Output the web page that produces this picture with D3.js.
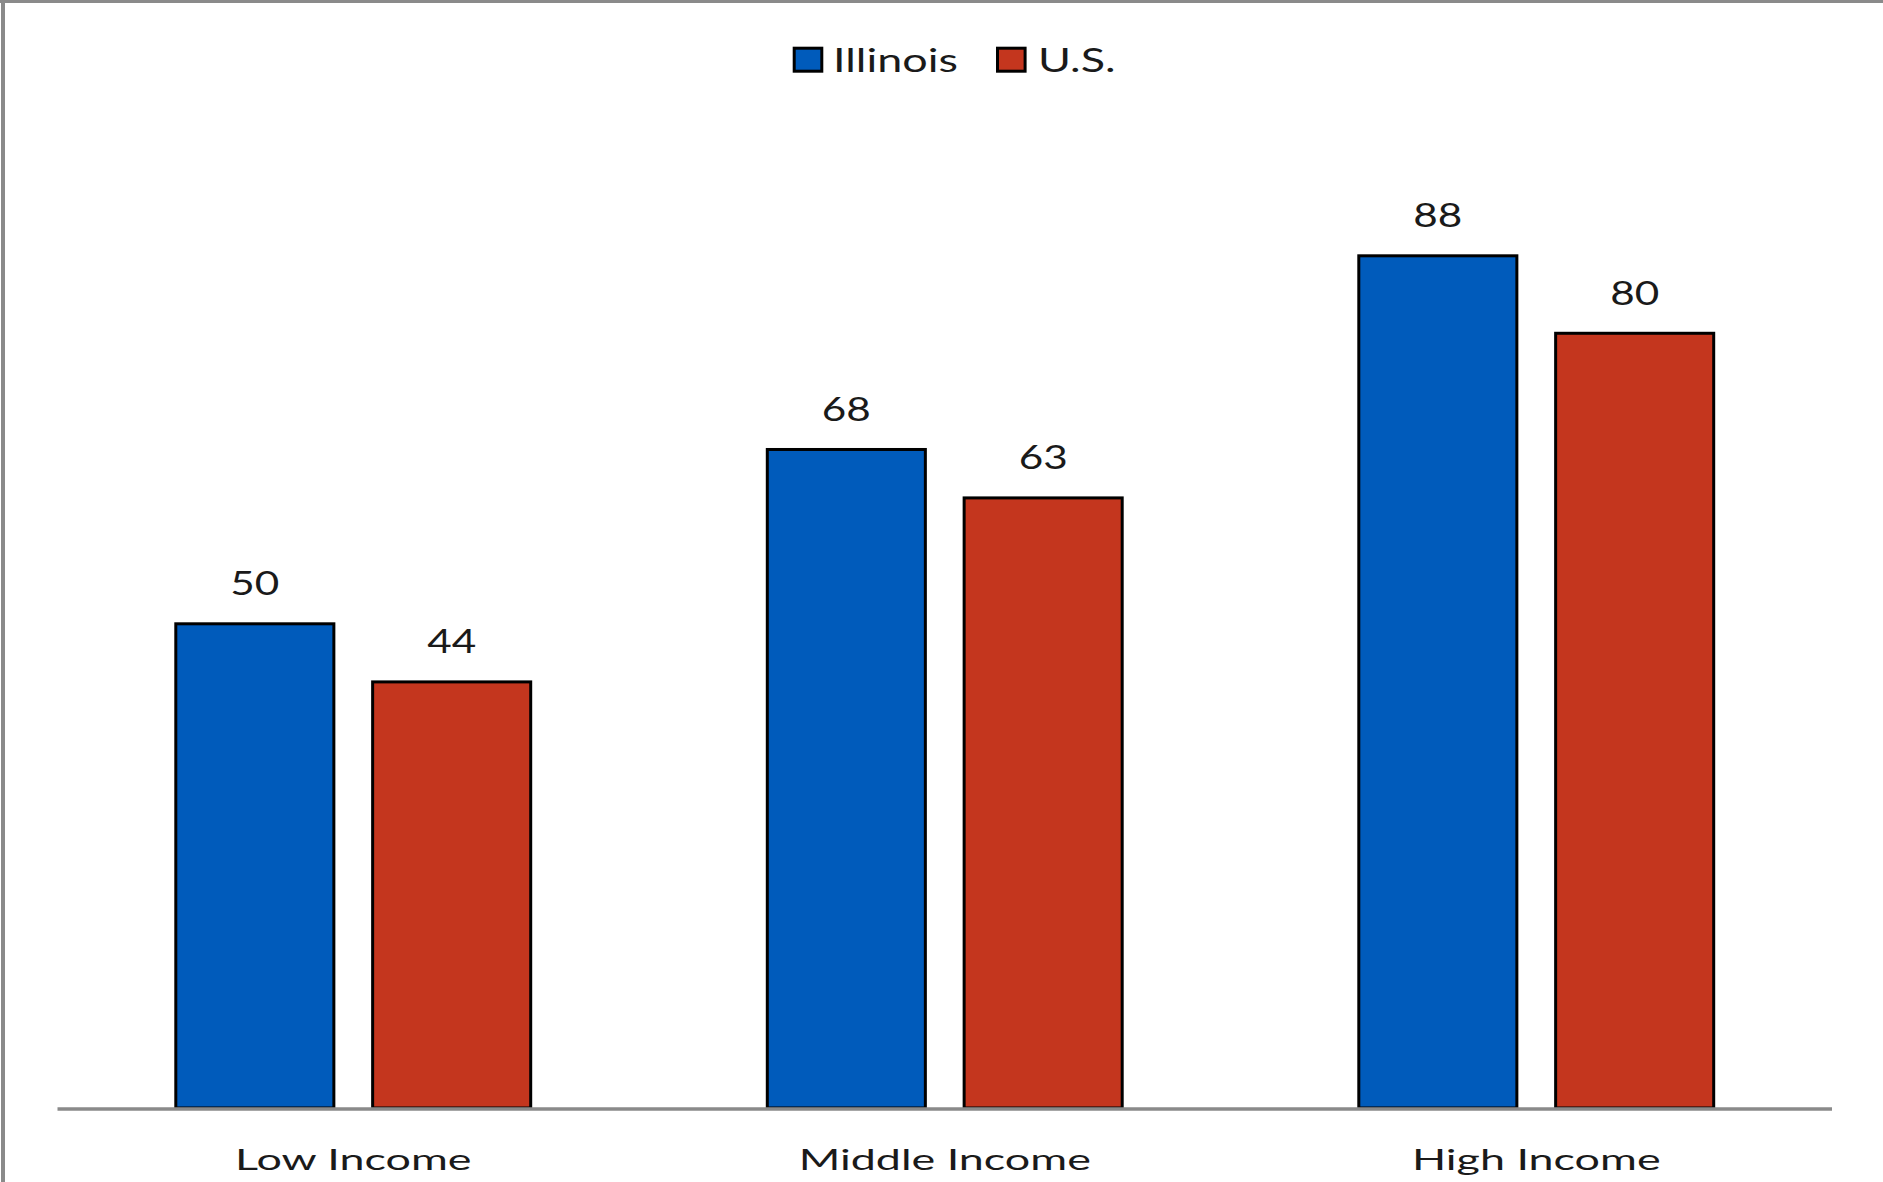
<!DOCTYPE html>
<html>
<head>
<meta charset="utf-8">
<script src="https://cdn.jsdelivr.net/npm/d3@7"></script>
<style>
  html, body { margin: 0; padding: 0; background: #fff; }
  svg { display: block; }
  text { font-family: Lato, "Open Sans", sans-serif; fill: #1a1a1a; }
</style>
</head>
<body>
<svg id="chart" width="1883" height="1182"></svg>
<script>
// Share by income group, Illinois vs. U.S.
const categories = ["Low Income", "Middle Income", "High Income"];
const seriesNames = ["Illinois", "U.S."];
const illinoisValues = [50, 68, 88];
const usValues = [44, 63, 80];
const seriesColors = ["#005BBB", "#C4361E"];

const rows = categories.map((c, i) => ({
  category: c,
  values: [
    { series: seriesNames[0], value: illinoisValues[i] },
    { series: seriesNames[1], value: usValues[i] }
  ]
}));

const W = 1883, H = 1182;
const plot = { left: 57.5, right: 1832, bottom: 1108 };
const valueStretch = 1.3;     // wide lettering used throughout
const legendStretch = 1.36;
const catStretch = 1.52;

const svg = d3.select("#chart");

// outer frame (only top and left edges fall inside the canvas)
svg.append("line").attr("x1", 3).attr("x2", 3).attr("y1", 0).attr("y2", H)
  .attr("stroke", "#8a8a8a").attr("stroke-width", 4);
svg.append("line").attr("x1", 0).attr("x2", W).attr("y1", 1.5).attr("y2", 1.5)
  .attr("stroke", "#8a8a8a").attr("stroke-width", 3);

const x0 = d3.scaleBand().domain(categories).range([plot.left, plot.right]).padding(0);
const groupW = x0.bandwidth() * 0.6;
const x1 = d3.scaleBand().domain(seriesNames)
  .range([(x0.bandwidth() - groupW) / 2, (x0.bandwidth() + groupW) / 2])
  .paddingInner(0.197).paddingOuter(0);
const y = d3.scaleLinear().domain([0, 100]).range([plot.bottom, plot.bottom - 968.4]);
const color = d3.scaleOrdinal().domain(seriesNames).range(seriesColors);

const groups = svg.append("g").selectAll("g").data(rows).join("g")
  .attr("transform", d => `translate(${x0(d.category)},0)`);

groups.selectAll("rect").data(d => d.values).join("rect")
  .attr("x", d => x1(d.series))
  .attr("width", x1.bandwidth())
  .attr("y", d => y(d.value))
  .attr("height", d => y(0) - y(d.value))
  .attr("fill", d => color(d.series))
  .attr("stroke", "#000")
  .attr("stroke-width", 3);

groups.selectAll("text.val").data(d => d.values).join("text")
  .attr("class", "val")
  .attr("text-anchor", "middle")
  .attr("font-size", 32.5)
  .attr("transform", d => `translate(${x1(d.series) + x1.bandwidth() / 2},${y(d.value) - 28.5}) scale(${valueStretch},1)`)
  .text(d => d.value);

// category axis
const xAxis = svg.append("g").attr("transform", `translate(0,${plot.bottom + 1})`)
  .call(d3.axisBottom(x0).tickSize(0).tickPadding(0));
xAxis.select(".domain").attr("stroke", "#8a8a8a").attr("stroke-width", 3.5)
  .attr("d", `M${plot.left},0H${plot.right}`);
xAxis.selectAll(".tick text")
  .attr("font-size", 29.5)
  .attr("font-family", "Lato, 'Open Sans', sans-serif")
  .attr("fill", "#1a1a1a")
  .attr("dy", 0)
  .attr("y", 0)
  .attr("transform", `translate(0,61) scale(${catStretch},1)`);

// legend
const legendItems = [
  { name: seriesNames[0], sx: 794.2, tx: 833 },
  { name: seriesNames[1], sx: 997.5, tx: 1038 }
];
const lg = svg.append("g").selectAll("g").data(legendItems).join("g");
lg.append("rect")
  .attr("x", d => d.sx).attr("y", 48.2).attr("width", 27.6).attr("height", 23)
  .attr("fill", d => color(d.name)).attr("stroke", "#000").attr("stroke-width", 3);
lg.append("text")
  .attr("font-size", 33)
  .attr("transform", d => `translate(${d.tx},72) scale(${legendStretch},1)`)
  .text(d => d.name);
</script>
</body>
</html>
